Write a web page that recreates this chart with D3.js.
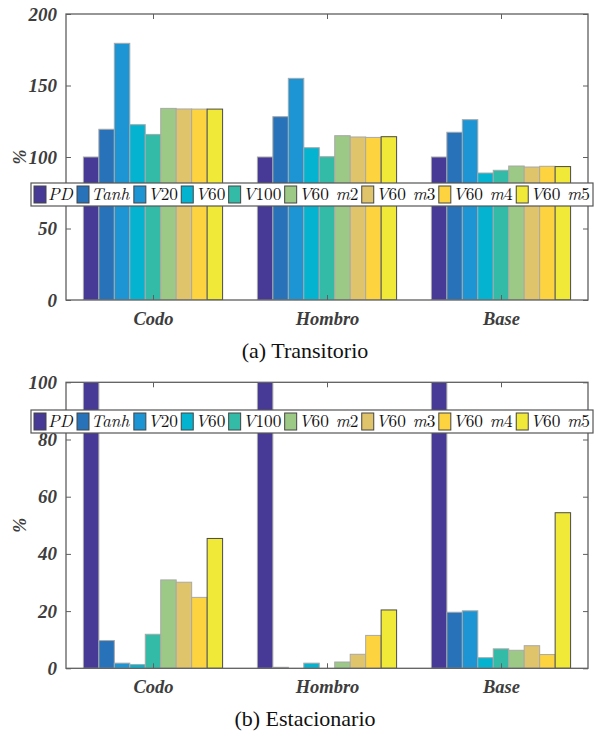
<!DOCTYPE html>
<html><head><meta charset="utf-8">
<script src="https://cdn.jsdelivr.net/npm/d3@7"></script>
<style>body{margin:0;background:#fff} svg{display:block}</style>
</head><body>
<svg id="fig" width="598" height="736"></svg>
<script>
const categories = ["Codo", "Hombro", "Base"];
const seriesNames = ["PD", "Tanh", "V20", "V60", "V100", "V60 m2", "V60 m3", "V60 m4", "V60 m5"];
const seriesColors = ["#473a96", "#2872b9", "#1d95d4", "#03b3cf", "#33bba7", "#9dc987", "#e0c46b", "#fdd43f", "#f1e938"];

// Transitorio (%), one value per series
const transCodo   = [100, 119.4, 179.5, 122.6, 115.8, 134.0, 133.6, 133.5, 133.5];
const transHombro = [100, 128.2, 155.0, 106.5, 100.2, 114.9, 114.0, 113.7, 114.2];
const transBase   = [100, 117.3, 126.1, 88.8, 90.7, 93.7, 93.0, 93.5, 93.3];
// Estacionario (%)
const estCodo   = [100, 9.7, 1.8, 1.3, 11.9, 30.9, 30.1, 24.8, 45.4];
const estHombro = [100, 0.35, 0, 1.8, 0, 2.2, 4.9, 11.5, 20.4];
const estBase   = [100, 19.6, 20.1, 3.7, 6.8, 6.3, 7.9, 4.8, 54.4];

const transTicks = [0, 50, 100, 150, 200];
const estTicks = [0, 20, 40, 60, 80, 100];

const svg = d3.select("#fig");
const X0 = 66, X1 = 588;
const axisColor = "#5f5f5f";
const serif = "Liberation Serif";
const mathFont = "Latin Modern Roman";

function mathLabel(sel, label) {
  // letters in math italic, digits upright; a word gap becomes a small shift
  const parts = label.match(/[A-Za-z]+|[0-9]+|\s+/g);
  let shift = 0;
  parts.forEach(p => {
    if (/^\s+$/.test(p)) { shift = 0.4; return; }
    sel.append("tspan")
      .attr("font-style", /[A-Za-z]/.test(p) ? "italic" : "normal")
      .attr("dx", shift ? `${shift}em` : null)
      .text(p);
    shift = 0;
  });
}

function panel(opts) {
  const { id, top, bottom, yMax, ticks, rows, caption, legendY } = opts;
  const g = svg.append("g");
  const y = d3.scaleLinear().domain([0, yMax]).range([bottom, top]);
  const x0 = d3.scaleBand().domain(categories).range([X0, X1]).paddingInner(0.2).paddingOuter(0.1);
  const x1 = d3.scaleBand().domain(seriesNames).range([0, x0.bandwidth()]);
  const xc = d3.scalePoint().domain(categories).range([X0, X1]).padding(0.5);

  g.append("clipPath").attr("id", "clip" + id)
    .append("rect").attr("x", X0).attr("y", top).attr("width", X1 - X0).attr("height", bottom - top);

  const groups = g.append("g").attr("clip-path", `url(#clip${id})`)
    .selectAll("g").data(categories).join("g")
    .attr("transform", c => `translate(${x0(c)},0)`);
  groups.selectAll("rect")
    .data((c, i) => rows[i].map((v, j) => ({ v, j })))
    .join("rect")
    .attr("x", d => x1(seriesNames[d.j]))
    .attr("width", x1.bandwidth())
    .attr("y", d => y(d.v))
    .attr("height", d => y(0) - y(d.v))
    .attr("fill", d => seriesColors[d.j])
    .attr("stroke", d => d.j === 8 ? "#4a4a4a" : "#a8a8a8")
    .attr("stroke-width", 1)
    .style("display", d => d.v > 0 ? null : "none");

  // axes with inward ticks
  const tickStyle = s => {
    s.select(".domain").remove();
    s.attr("font-family", serif).attr("font-size", 19);
    s.selectAll("line").attr("stroke", axisColor);
    s.selectAll("text").attr("fill", "#3d3d3d")
      .attr("font-weight", "bold").attr("font-style", "italic");
  };
  g.append("g").attr("transform", `translate(${X0},0)`)
    .call(d3.axisLeft(y).tickValues(ticks).tickSizeInner(-5).tickSizeOuter(0).tickPadding(9))
    .call(tickStyle);
  g.append("g").attr("transform", `translate(${X1},0)`)
    .call(d3.axisRight(y).tickValues(ticks).tickSizeInner(-5).tickSizeOuter(0).tickFormat(""))
    .call(tickStyle);
  g.append("g").attr("transform", `translate(0,${bottom})`)
    .call(d3.axisBottom(xc).tickSizeInner(-5).tickSizeOuter(0).tickPadding(12))
    .call(tickStyle)
    .attr("font-size", 18.5);
  g.append("g").attr("transform", `translate(0,${top})`)
    .call(d3.axisTop(xc).tickSizeInner(-5).tickSizeOuter(0).tickFormat(""))
    .call(tickStyle);
  g.append("rect").attr("x", X0).attr("y", top).attr("width", X1 - X0).attr("height", bottom - top)
    .attr("fill", "none").attr("stroke", axisColor).attr("stroke-width", 1.3);

  // y label
  g.append("text")
    .attr("transform", `translate(26,${(top + bottom) / 2}) rotate(-90)`)
    .attr("text-anchor", "middle")
    .attr("font-family", serif).attr("font-weight", "bold").attr("font-style", "italic")
    .attr("font-size", 18).attr("fill", "#3d3d3d")
    .text("%");

  // caption
  g.append("text")
    .attr("x", 305).attr("y", bottom + 58)
    .attr("text-anchor", "middle")
    .attr("font-family", serif).attr("font-size", 22).attr("fill", "#111")
    .text(caption);

  // legend: one frame, entries fitted inside it
  const boxL = 31, boxR = 593, pad = 3, minGap = 3;
  const lg = g.append("g");
  lg.append("rect").attr("fill", "#fff").attr("stroke", "#555").attr("stroke-width", 1.2)
    .attr("x", boxL).attr("y", legendY - 11.5).attr("width", boxR - boxL).attr("height", 23);
  const items = seriesNames.map((name, j) => {
    const it = lg.append("g");
    it.append("rect").attr("x", 0).attr("y", -8.5).attr("width", 12).attr("height", 17)
      .attr("fill", seriesColors[j]).attr("stroke", "#444").attr("stroke-width", 1);
    const t = it.append("text").attr("x", 14).attr("y", 5.5)
      .attr("font-family", mathFont).attr("fill", "#111");
    mathLabel(t, name);
    return { it, t };
  });
  let fs = 18, content;
  const measure = () => {
    items.forEach(d => {
      d.t.attr("font-size", fs);
      const b = d.t.node().getBBox();
      d.w = b.x + b.width;
    });
    return d3.sum(items, d => d.w);
  };
  content = measure();
  while (content + minGap * (items.length - 1) > boxR - boxL - 2 * pad && fs > 10) { fs -= 0.25; content = measure(); }
  const gap = (boxR - boxL - 2 * pad - content) / (items.length - 1);
  let cx = boxL + pad;
  items.forEach(d => { d.it.attr("transform", `translate(${cx},${legendY})`); cx += d.w + gap; });
}

panel({ id: "a", top: 14, bottom: 300, yMax: 200, ticks: transTicks,
  rows: [transCodo, transHombro, transBase], caption: "(a) Transitorio", legendY: 194.5 });
panel({ id: "b", top: 382.3, bottom: 668.3, yMax: 100, ticks: estTicks,
  rows: [estCodo, estHombro, estBase], caption: "(b) Estacionario", legendY: 421.5 });
</script>
</body></html>
